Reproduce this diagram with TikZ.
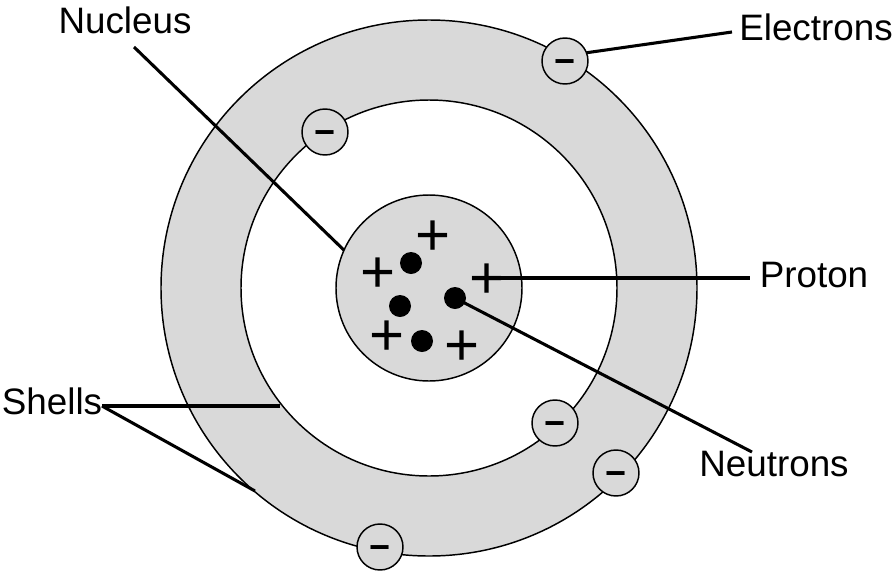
\documentclass[tikz,border=0pt]{standalone}
\usepackage{fontspec}
\setmainfont{Liberation Sans}
\usepackage{tikz}
\usetikzlibrary{positioning}
\newcommand{\charge}[1]{\smash{\raisebox{-0.345em}{#1}}}

\begin{document}
\begin{tikzpicture}[x=0.75pt,y=-0.75pt]
	\tikzstyle{shell}=[circle,draw,line width=1.1pt,inner sep=0pt,outer sep=0pt]
	\tikzstyle{electron}=[shell,fill=black!15,minimum size=34.5pt,font=\fontsize{27}{27}\selectfont\bfseries]
	\tikzstyle{neutron}=[circle,fill=black,minimum size=16.5pt,inner sep=0pt,outer sep=0pt]
	\tikzstyle{proton}=[inner sep=0pt,outer sep=0pt,xshift=1.2pt,font=\fontsize{45}{45}\selectfont]
	\tikzstyle{label}=[inner sep=0pt,outer sep=0pt,font=\fontsize{27.6}{27.6}\selectfont]
	\tikzstyle{leader}=[line width=2.3pt]
	\useasboundingbox (0,0) rectangle (894,576);
		\node[shell, fill=black!15, minimum size=402pt] (outer) at (429,288) {};
		\node[shell, fill=white, minimum size=282pt] (inner) at (429,288) {};
		\node[shell, fill=black!15, minimum size=139.5pt] (nucleus) at (429,288) {};
		\node[electron] (e1) at (565,61) {\charge{−}};
		\node[electron] (e2) at (325,132) {\charge{−}};
		\node[electron] (e3) at (555,423) {\charge{−}};
		\node[electron] (e4) at (616,473) {\charge{−}};
		\node[electron] (e5) at (380,547) {\charge{−}};
		\node[neutron] (n1) at (411,263) {};
		\node[neutron] (n2) at (400,306) {};
		\node[neutron] (n3) at (455,298) {};
		\node[neutron] (n4) at (422,341) {};
		\node[proton] (p1) at (431,235) {\charge{+}};
		\node[proton] (p2) at (376,272) {\charge{+}};
		\node[proton] (p3) at (485,278) {\charge{+}};
		\node[proton] (p4) at (385,335) {\charge{+}};
		\node[proton] (p5) at (460,345) {\charge{+}};
		\node[label] (lnucleus) at (125,20) {Nucleus};
		\node[label] (lelectrons) at (816,27) {Electrons};
		\node[label] (lproton) at (814,275) {Proton};
		\node[label] (lneutrons) at (774,464) {Neutrons};
		\node[label] (lshells) at (52,401) {Shells};
		\coordinate (cn) at (134,47);
		\coordinate (ce) at (732,32);
		\coordinate (cp) at (750,278);
		\coordinate (cu) at (752,452);
		\coordinate (cs) at (102,406);
		\coordinate (cs1) at (280,406);
		\coordinate (cs2) at (255,491);
			\draw[leader] (cn) -- (nucleus.156);
			\draw[leader] (e1.21) -- (ce);
			\draw[leader] (p3.center) -- (cp);
			\draw[leader] (n3.center) -- (cu);
			\draw[leader] (cs) -- (cs1);
			\draw[leader] (cs) -- (cs2);
\end{tikzpicture}
\end{document}
